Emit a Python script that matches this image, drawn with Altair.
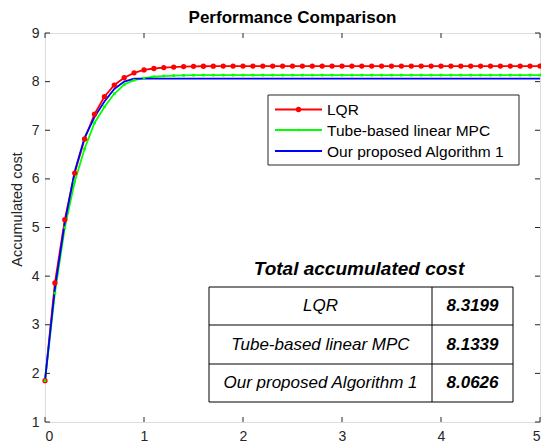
import altair as alt
import pandas as pd

# ---------------- data ----------------
time_s = [0.0, 0.1, 0.2, 0.3, 0.4, 0.5, 0.6, 0.7, 0.8, 0.9,
          1.0, 1.1, 1.2, 1.3, 1.4, 1.5, 1.6, 1.7, 1.8, 1.9,
          2.0, 2.1, 2.2, 2.3, 2.4, 2.5, 2.6, 2.7, 2.8, 2.9,
          3.0, 3.1, 3.2, 3.3, 3.4, 3.5, 3.6, 3.7, 3.8, 3.9,
          4.0, 4.1, 4.2, 4.3, 4.4, 4.5, 4.6, 4.7, 4.8, 4.9, 5.0]

lqr_cost = [1.85, 3.86, 5.16, 6.12, 6.82, 7.33, 7.69, 7.93, 8.08, 8.18,
            8.24, 8.27, 8.29, 8.30, 8.31, 8.314, 8.316, 8.318, 8.319, 8.3195,
            8.3199, 8.3199, 8.3199, 8.3199, 8.3199, 8.3199, 8.3199, 8.3199, 8.3199, 8.3199,
            8.3199, 8.3199, 8.3199, 8.3199, 8.3199, 8.3199, 8.3199, 8.3199, 8.3199, 8.3199,
            8.3199, 8.3199, 8.3199, 8.3199, 8.3199, 8.3199, 8.3199, 8.3199, 8.3199, 8.3199, 8.3199]

tube_cost = [1.85, 3.65, 5.00, 5.94, 6.62, 7.15, 7.48, 7.75, 7.94, 8.03,
             8.07, 8.10, 8.115, 8.125, 8.13, 8.132, 8.133, 8.1335, 8.1337, 8.1338,
             8.1339, 8.1339, 8.1339, 8.1339, 8.1339, 8.1339, 8.1339, 8.1339, 8.1339, 8.1339,
             8.1339, 8.1339, 8.1339, 8.1339, 8.1339, 8.1339, 8.1339, 8.1339, 8.1339, 8.1339,
             8.1339, 8.1339, 8.1339, 8.1339, 8.1339, 8.1339, 8.1339, 8.1339, 8.1339, 8.1339, 8.1339]

ours_cost = [1.85, 3.75, 5.10, 6.15, 6.85, 7.27, 7.59, 7.85, 8.00, 8.0626,
             8.0626, 8.0626, 8.0626, 8.0626, 8.0626, 8.0626, 8.0626, 8.0626, 8.0626, 8.0626,
             8.0626, 8.0626, 8.0626, 8.0626, 8.0626, 8.0626, 8.0626, 8.0626, 8.0626, 8.0626,
             8.0626, 8.0626, 8.0626, 8.0626, 8.0626, 8.0626, 8.0626, 8.0626, 8.0626, 8.0626,
             8.0626, 8.0626, 8.0626, 8.0626, 8.0626, 8.0626, 8.0626, 8.0626, 8.0626, 8.0626, 8.0626]

series_names = ["LQR", "Tube-based linear MPC", "Our proposed Algorithm 1"]
series_colors = ["#FF0000", "#00FF00", "#0000FF"]
table_totals = ["8.3199", "8.1339", "8.0626"]
table_title = "Total accumulated cost"
x_ticks = [0, 1, 2, 3, 4, 5]
y_ticks = [1, 2, 3, 4, 5, 6, 7, 8, 9]

# ---------------- layout ----------------
W, H = 495, 389
FONT = "Liberation Sans"
AX = "#262626"

frames = []
for name, vals in zip(series_names, [lqr_cost, tube_cost, ours_cost]):
    frames.append(pd.DataFrame({"t": time_s, "cost": vals, "series": name}))
df = pd.concat(frames, ignore_index=True)

xs = alt.Scale(domain=[0, 5], nice=False, zero=False)
ys = alt.Scale(domain=[1, 9], nice=False, zero=False)

x_axis = alt.Axis(values=x_ticks, ticks=False, domain=False, grid=False,
                  labelFontSize=14, labelPadding=7, labelColor=AX, labelFont=FONT,
                  format="d", title=None)
y_axis = alt.Axis(values=y_ticks, ticks=False, domain=False, grid=False,
                  labelFontSize=14, labelPadding=6, labelColor=AX, labelFont=FONT,
                  format="d", title="Accumulated cost", titleFont=FONT,
                  titleFontSize=14.5, titleFontWeight="normal", titleColor=AX,
                  titleX=-28, titleY=176, titleAlign="center", titleAngle=270,
                  titleBaseline="middle")

color = alt.Color(
    "series:N",
    scale=alt.Scale(domain=series_names, range=series_colors),
    sort=series_names,
    legend=None,
)

lines = alt.Chart(df).mark_line(strokeWidth=1.8).encode(
    x=alt.X("t:Q", scale=xs, axis=x_axis),
    y=alt.Y("cost:Q", scale=ys, axis=y_axis),
    color=color,
)

lqr_pts = alt.Chart(df).transform_filter(
    alt.datum.series == series_names[0]
).mark_point(filled=True, size=28, opacity=1, color=series_colors[0]).encode(
    x=alt.X("t:Q", scale=xs), y=alt.Y("cost:Q", scale=ys))

tube_pts = alt.Chart(df).transform_filter(
    alt.datum.series == series_names[1]
).mark_square(filled=True, size=7, opacity=1, color=series_colors[1]).encode(
    x=alt.X("t:Q", scale=xs), y=alt.Y("cost:Q", scale=ys))

# inward ticks (MATLAB box style)
xt = pd.DataFrame({"t": x_ticks})
yt = pd.DataFrame({"cost": y_ticks})
tick_b = alt.Chart(xt).mark_rule(color=AX).encode(
    x=alt.X("t:Q", scale=xs), y=alt.value(H), y2=alt.value(H - 5))
tick_t = alt.Chart(xt).mark_rule(color=AX).encode(
    x=alt.X("t:Q", scale=xs), y=alt.value(0), y2=alt.value(5))
tick_l = alt.Chart(yt).mark_rule(color=AX).encode(
    y=alt.Y("cost:Q", scale=ys), x=alt.value(0), x2=alt.value(5))
tick_r = alt.Chart(yt).mark_rule(color=AX).encode(
    y=alt.Y("cost:Q", scale=ys), x=alt.value(W), x2=alt.value(W - 5))

one = pd.DataFrame({"k": [0]})

# ---------------- legend (MATLAB style box) ----------------
lg_left, lg_right, lg_top, lg_bottom = 223, 474, 62, 132
lg_sym0, lg_sym1, lg_text = 230, 277, 282
lg_rows = [76.5, 97, 118]
marker_sizes = [28, 7, 4]
legend_layers = [alt.Chart(one).mark_rect(fill="white", stroke=AX, strokeWidth=1).encode(
    x=alt.value(lg_left), x2=alt.value(lg_right), y=alt.value(lg_top), y2=alt.value(lg_bottom))]
for i, (nm, col) in enumerate(zip(series_names, series_colors)):
    ldf = pd.DataFrame({"name": [nm]})
    legend_layers.append(alt.Chart(ldf).mark_rule(color=col, strokeWidth=1.8).encode(
        x=alt.value(lg_sym0), x2=alt.value(lg_sym1), y=alt.value(lg_rows[i])))
    legend_layers.append(alt.Chart(ldf).mark_circle(color=col, opacity=1, size=marker_sizes[i]).encode(
        x=alt.value((lg_sym0 + lg_sym1) / 2), y=alt.value(lg_rows[i])))
    legend_layers.append(alt.Chart(ldf).mark_text(
        font=FONT, fontSize=15.5, color="black", align="left", baseline="middle").encode(
        text="name:N", x=alt.value(lg_text), y=alt.value(lg_rows[i] + 0.5)))

# ---------------- table ----------------
tb_left, tb_right, tb_top, tb_bottom = 164, 468, 254, 369
tb_div = 387
row_lines = [292, 331]
row_centers = [273, 311.5, 350]

table_layers = [alt.Chart(one).mark_rect(fill="white", stroke="black", strokeWidth=1).encode(
    x=alt.value(tb_left), x2=alt.value(tb_right), y=alt.value(tb_top), y2=alt.value(tb_bottom))]
for yl in row_lines:
    table_layers.append(alt.Chart(one).mark_rule(color="black").encode(
        x=alt.value(tb_left), x2=alt.value(tb_right), y=alt.value(yl)))
table_layers.append(alt.Chart(one).mark_rule(color="black").encode(
    x=alt.value(tb_div), y=alt.value(tb_top), y2=alt.value(tb_bottom)))

for i, (nm, val) in enumerate(zip(series_names, table_totals)):
    tdf = pd.DataFrame({"name": [nm], "val": [val]})
    table_layers.append(alt.Chart(tdf).mark_text(
        font=FONT, fontSize=17, fontStyle="italic", color="black",
        align="center", baseline="middle").encode(
        text="name:N", x=alt.value((tb_left + tb_div) / 2), y=alt.value(row_centers[i])))
    table_layers.append(alt.Chart(tdf).mark_text(
        font=FONT, fontSize=17, fontStyle="italic", fontWeight="bold", color="black",
        align="center", baseline="middle").encode(
        text="val:N", x=alt.value((tb_div + tb_right) / 2), y=alt.value(row_centers[i])))

ttl = pd.DataFrame({"txt": [table_title]})
table_layers.append(alt.Chart(ttl).mark_text(
    font=FONT, fontSize=19, fontStyle="italic", fontWeight="bold", color="black",
    align="center", baseline="alphabetic").encode(
    text="txt:N", x=alt.value(314), y=alt.value(242)))

chart = alt.layer(
    lines, lqr_pts, tube_pts, tick_b, tick_t, tick_l, tick_r, *legend_layers, *table_layers
).properties(
    width=W, height=H,
    autosize=alt.AutoSizeParams(type="none"),
    padding={"left": 45, "top": 33, "right": 1, "bottom": 26},
    title=alt.TitleParams("Performance Comparison", font=FONT, fontSize=17,
                          fontWeight="bold", color="black", anchor="middle", offset=-1),
).configure_view(stroke=AX, strokeWidth=1).configure(background="white")

chart.save("out.html", embed_options={"renderer": "svg", "actions": False})
